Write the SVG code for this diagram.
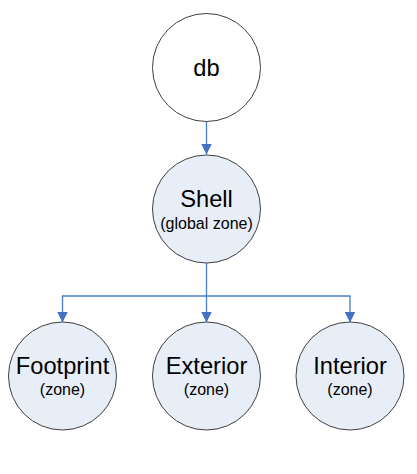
<svg xmlns="http://www.w3.org/2000/svg" width="417" height="474" viewBox="0 0 417 474">
<style>
.node{stroke:#404040;stroke-width:1}
.zone{fill:#E8EEF8}
.root{fill:#FFFFFF}
.big{font-family:"Liberation Sans",Arial,sans-serif;font-size:23.7px;fill:#000;text-anchor:middle}
.small{font-family:"Liberation Sans",Arial,sans-serif;font-size:16px;fill:#000;text-anchor:middle}
.conn{fill:none;stroke:#4A7CC6;stroke-width:1.3}
</style>
<defs>
<marker id="arr" markerUnits="userSpaceOnUse" markerWidth="12" markerHeight="12" viewBox="0 0 12 12" refX="11" refY="6" orient="auto">
<path d="M0,0.5 L11,6 L0,11.5 Z" fill="#4472C4"/>
</marker>
</defs>
<rect width="417" height="474" fill="#FFFFFF"/>
<g id="connectors">
<path class="conn" d="M206.5,121 L206.5,154.5" marker-end="url(#arr)"/>
<path class="conn" d="M206.5,263 L206.5,322.5" marker-end="url(#arr)"/>
<path class="conn" d="M206.5,296 L62.5,296 L62.5,322.5" marker-end="url(#arr)"/>
<path class="conn" d="M206.5,296 L350,296 L350,322.5" marker-end="url(#arr)"/>
</g>
<g id="db">
<circle class="node root" cx="206.5" cy="67.5" r="54"/>
<text class="big" x="206.5" y="75.5">db</text>
</g>
<g id="shell">
<circle class="node zone" cx="206.5" cy="209" r="54"/>
<text class="big" x="206.5" y="206.5">Shell</text>
<text class="small" x="206.5" y="229">(global zone)</text>
</g>
<g id="footprint">
<circle class="node zone" cx="62.5" cy="376" r="54"/>
<text class="big" x="62.5" y="374">Footprint</text>
<text class="small" x="62.5" y="394.5">(zone)</text>
</g>
<g id="exterior">
<circle class="node zone" cx="206.5" cy="376" r="54"/>
<text class="big" x="206.5" y="374">Exterior</text>
<text class="small" x="206.5" y="394.5">(zone)</text>
</g>
<g id="interior">
<circle class="node zone" cx="350" cy="376" r="54"/>
<text class="big" x="350" y="374">Interior</text>
<text class="small" x="350" y="394.5">(zone)</text>
</g>
</svg>
